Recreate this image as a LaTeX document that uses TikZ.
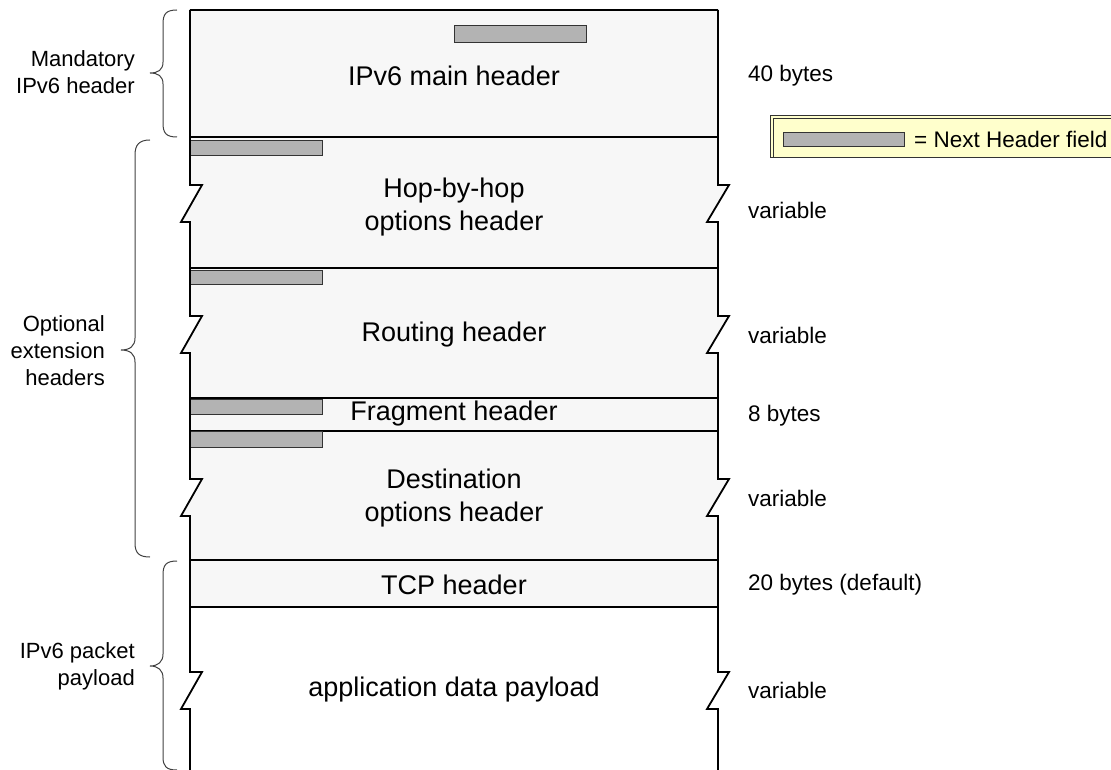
\documentclass[tikz,border=0pt]{standalone}
\usepackage{fontspec}
\setmainfont{Liberation Sans}
\definecolor{hdrfill}{HTML}{F7F7F7}
\definecolor{nhfill}{HTML}{B3B3B3}
\definecolor{legfill}{HTML}{FFFFCC}
\definecolor{bracecol}{HTML}{404040}
\begin{document}
\begin{tikzpicture}[x=1pt,y=-1pt,
  outline/.style={line width=1.8pt,black,line join=miter},
  sepline/.style={line width=1.3pt,black},
  nhbar/.style={fill=nhfill,draw=black!80,line width=0.9pt},
  mainlbl/.style={inner sep=0pt,align=center,font=\fontsize{27}{33}\selectfont},
  sidelbl/.style={inner sep=0pt,anchor=west,font=\fontsize{22.5}{27}\selectfont},
  leftlbl/.style={inner sep=0pt,anchor=east,align=right,font=\fontsize{22}{27}\selectfont},
  bracepath/.style={draw=bracecol,line width=1pt}]
\useasboundingbox (0,0) rectangle (1111,770);
\clip (0,0) rectangle (1111,770);

% background fill of header region (with zigzags)
\fill[hdrfill] (190,10) -- (190,185) -- (202,185) -- (181,222) -- (190,222)
  -- (190,316) -- (202,316) -- (181,353) -- (190,353)
  -- (190,479) -- (202,479) -- (181,516) -- (190,516)
  -- (190,607) -- (718,607)
  -- (718,516) -- (707,516) -- (729,479) -- (718,479)
  -- (718,353) -- (707,353) -- (729,316) -- (718,316)
  -- (718,222) -- (707,222) -- (729,185) -- (718,185)
  -- (718,10) -- cycle;

% separators
\draw[outline] (190,10) -- (718,10);
\draw[outline] (190,137) -- (718,137);
\draw[sepline] (190,268) -- (718,268);
\draw[sepline] (190,398) -- (718,398);
\draw[sepline] (190,431) -- (718,431);
\draw[sepline] (190,560) -- (718,560);
\draw[sepline] (190,607) -- (718,607);

% next header bars
\draw[nhbar] (454,25) rectangle (586,42);
\draw[nhbar] (190,140) rectangle (322,155);
\draw[nhbar] (190,270) rectangle (322,284);
\draw[nhbar] (190,399) rectangle (322,414);
\draw[nhbar] (190,431) rectangle (322,447);

% outer left / right edges with breaks
\draw[outline] (190,10) -- (190,185) -- (202,185) -- (181,222) -- (190,222)
  -- (190,316) -- (202,316) -- (181,353) -- (190,353)
  -- (190,479) -- (202,479) -- (181,516) -- (190,516)
  -- (190,672) -- (202,672) -- (181,709) -- (190,709) -- (190,775);
\draw[outline] (718,10) -- (718,185) -- (729,185) -- (707,222) -- (718,222)
  -- (718,316) -- (729,316) -- (707,353) -- (718,353)
  -- (718,479) -- (729,479) -- (707,516) -- (718,516)
  -- (718,672) -- (729,672) -- (707,709) -- (718,709) -- (718,775);

% header labels
\node[mainlbl] (main) at (454,76) {IPv6 main header};
\node[mainlbl] (hop) at (454,207) {Hop-by-hop\\options header};
\node[mainlbl] (rout) at (454,335) {Routing header};
\node[mainlbl] (frag) at (454,414) {Fragment header};
\node[mainlbl] (dest) at (454,498) {Destination\\options header};
\node[mainlbl] (tcp) at (454,585) {TCP header};
\node[mainlbl] (app) at (454,690) {application data payload};

% size labels
\node[sidelbl] (s1) at (748,76) {40 bytes};
\node[sidelbl] (s2) at (748,210) {variable};
\node[sidelbl] (s3) at (748,335) {variable};
\node[sidelbl] (s4) at (748,416) {8 bytes};
\node[sidelbl] (s5) at (748,498) {variable};
\node[sidelbl] (s6) at (748,585) {20 bytes (default)};
\node[sidelbl] (s7) at (748,690) {variable};

% legend
\draw[fill=legfill,draw=black!80,line width=0.8pt] (770,115) rectangle (1125,157);
\draw[draw=black!80,line width=0.8pt] (773,118) rectangle (1125,157);
\draw[nhbar] (783,132) rectangle (904,146);
\node[sidelbl] (leg) at (914,139) {= Next Header field};

% braces
\draw[bracepath] (177,10) .. controls (166,10) and (163,14) .. (163,24)
  -- (163,62) .. controls (163,70) and (158,73) .. (150,73)
  .. controls (158,73) and (163,76) .. (163,84)
  -- (163,123) .. controls (163,133) and (166,137) .. (177,137);
\draw[bracepath] (150,140) .. controls (139,140) and (135,145) .. (135,155)
  -- (135,338) .. controls (135,346) and (130,350) .. (121,350)
  .. controls (130,350) and (135,354) .. (135,362)
  -- (135,543) .. controls (135,553) and (139,557) .. (150,557);
\draw[bracepath] (177,561) .. controls (166,561) and (163,565) .. (163,575)
  -- (163,654) .. controls (163,662) and (158,666) .. (150,666)
  .. controls (158,666) and (163,670) .. (163,678)
  -- (163,757) .. controls (163,766) and (166,770) .. (177,770);

% brace labels
\node[leftlbl] (lm) at (135,72) {Mandatory\\IPv6 header};
\node[leftlbl] (lo) at (105,351) {Optional\\extension\\headers};
\node[leftlbl] (lp) at (135,666) {IPv6 packet\\payload};
\end{tikzpicture}
\end{document}
